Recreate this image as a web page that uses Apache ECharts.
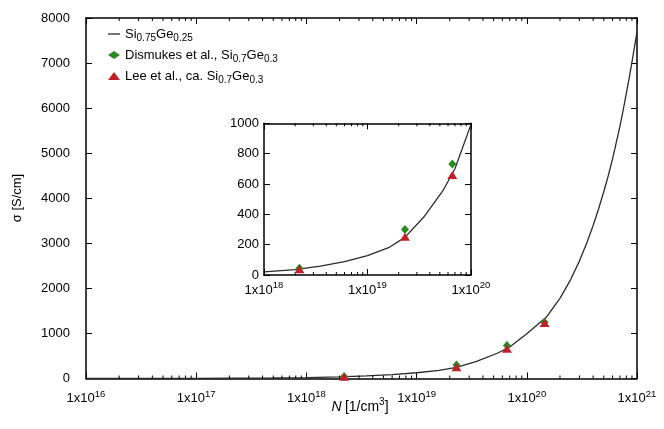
<!DOCTYPE html>
<html><head><meta charset="utf-8">
<script src="https://cdn.jsdelivr.net/npm/echarts@6/dist/echarts.min.js"></script>
<style>html,body{margin:0;padding:0;background:#fff}#c{width:664px;height:429px}</style>
</head><body><div id="c"></div>
<script>
// ---- data ----
const curveN = [1e16, 2e16, 5e16, 1e17, 2e17, 5e17, 1e18, 2e18, 3.5e18, 6e18, 1e19, 1.6e19, 2.3e19, 3.5e19, 5.4e19, 7e19, 1e20, 1.5e20, 2e20, 2.5e20, 3e20, 3.5e20, 4e20, 4.5e20, 5e20, 5.5e20, 6e20, 7e20, 7.5e20, 8.5e20, 9e20, 1e21];
const curveSigma = [0.5, 1.0, 2.4, 4.5, 8, 13, 20, 35, 58, 88, 128, 180, 248, 382, 560, 700, 993, 1358, 1778, 2195, 2605, 3005, 3396, 3778, 4149, 4511, 4873, 5596, 5959, 6672, 7022, 7690];
const dismukesN = [2.2e18, 2.3e19, 6.6e19, 1.45e20];
const dismukesSigma = [45, 300, 732, 1250];
const leeN = [2.2e18, 2.3e19, 6.6e19, 1.45e20];
const leeSigma = [38, 252, 660, 1230];
const mainDecades = [16, 17, 18, 19, 20, 21];
const insetDecades = [18, 19, 20];
const seriesNames = ['Si0.75Ge0.25', 'Dismukes et al., Si0.7Ge0.3', 'Lee et al., ca. Si0.7Ge0.3'];
const legendRich = {
  'Si0.75Ge0.25': '{t|Si}{s|0.75}{t|Ge}{s|0.25}',
  'Dismukes et al., Si0.7Ge0.3': '{t|Dismukes et al., Si}{s|0.7}{t|Ge}{s|0.3}',
  'Lee et al., ca. Si0.7Ge0.3': '{t|Lee et al., ca. Si}{s|0.7}{t|Ge}{s|0.3}'
};

const FONT = 'Liberation Sans, Arial, sans-serif';
const GREEN = '#2a8a22';
const RED = '#c02028';
const CURVE = '#2b2b2b';

function zip(a, b) { return a.map((v, i) => [v, b[i]]); }
function minorList(decs) {
  const out = [];
  for (let i = 0; i < decs.length - 1; i++) for (let k = 2; k <= 9; k++) out.push([k * Math.pow(10, decs[i])]);
  return out;
}
function expLabel(v) {
  const e = Math.round(Math.log10(v));
  return '{b|1x10}{e|' + e + '}';
}
const supRich = {
  b: { fontFamily: FONT, fontSize: 13, color: '#000', lineHeight: 16 },
  e: { fontFamily: FONT, fontSize: 9.5, color: '#000', lineHeight: 10, padding: [0, 0, 9, 0] }
};

const chart = echarts.init(document.getElementById('c'), null, { renderer: 'canvas' });

function logX(gridIndex, min, max, pos, show, margin) {
  return {
    type: 'log', logBase: 10, gridIndex, min, max, position: pos,
    axisLine: { show: true, onZero: false, lineStyle: { color: '#000', width: 1.5 } },
    axisTick: { show: true, inside: true, length: 6, lineStyle: { color: '#000', width: 1 } },
    axisLabel: show ? { show: true, margin: margin, formatter: expLabel, rich: supRich } : { show: false },
    splitLine: { show: false }
  };
}
function valY(gridIndex, min, max, interval, pos, show, margin) {
  return {
    type: 'value', gridIndex, min, max, interval, position: pos,
    axisLine: { show: true, onZero: false, lineStyle: { color: '#000', width: 1.5 } },
    axisTick: { show: true, inside: true, length: 6, lineStyle: { color: '#000', width: 1 } },
    axisLabel: show ? { show: true, margin: margin, fontFamily: FONT, fontSize: 13, color: '#000', formatter: v => String(v) } : { show: false },
    splitLine: { show: false }
  };
}

function minorTickSeries(xAxisIndex, yAxisIndex, ymin, ymax, decs) {
  return {
    type: 'custom', xAxisIndex, yAxisIndex, silent: true, z: 5,
    data: minorList(decs),
    renderItem: function (params, api) {
      const b = api.coord([api.value(0), ymin]);
      const t = api.coord([api.value(0), ymax]);
      return {
        type: 'group', children: [
          { type: 'line', shape: { x1: b[0], y1: b[1], x2: b[0], y2: b[1] - 3 }, style: { stroke: '#000', lineWidth: 1 } },
          { type: 'line', shape: { x1: t[0], y1: t[1], x2: t[0], y2: t[1] + 3 }, style: { stroke: '#000', lineWidth: 1 } }
        ]
      };
    }
  };
}

const option = {
  animation: false,
  backgroundColor: '#fff',
  grid: [
    { left: 86, top: 18, width: 551, height: 360.5, show: false },
    { left: 264, top: 123.3, width: 207, height: 151.7, show: false, z: 10 }
  ],
  xAxis: [
    logX(0, 1e16, 1e21, 'bottom', true, 12),
    logX(0, 1e16, 1e21, 'top', false),
    logX(1, 1e18, 1e20, 'bottom', true, 7),
    logX(1, 1e18, 1e20, 'top', false)
  ],
  yAxis: [
    valY(0, 0, 8000, 1000, 'left', true, 16),
    valY(0, 0, 8000, 1000, 'right', false),
    valY(1, 0, 1000, 200, 'left', true, 5),
    valY(1, 0, 1000, 200, 'right', false)
  ],
  legend: {
    orient: 'vertical', left: 103, top: 20, itemGap: 3, itemWidth: 12, itemHeight: 8,
    selectedMode: false,
    data: [
      { name: seriesNames[0], icon: 'path://M0,0L12,0L12,1.3L0,1.3Z', itemStyle: { color: CURVE } },
      { name: seriesNames[1], icon: 'diamond' },
      { name: seriesNames[2], icon: 'triangle' }
    ],
    formatter: function (n) { return legendRich[n]; },
    textStyle: {
      padding: [0, 0, 0, 0],
      rich: {
        t: { fontFamily: FONT, fontSize: 13, color: '#000', lineHeight: 16 },
        s: { fontFamily: FONT, fontSize: 10, color: '#000', lineHeight: 10, padding: [8, 0, 0, 0] }
      }
    }
  },
  series: [
    { name: seriesNames[0], type: 'line', xAxisIndex: 0, yAxisIndex: 0, data: zip(curveN, curveSigma), showSymbol: false, symbol: 'none', lineStyle: { color: CURVE, width: 1.3 }, itemStyle: { color: CURVE }, z: 3 },
    { name: seriesNames[1], type: 'scatter', xAxisIndex: 0, yAxisIndex: 0, data: zip(dismukesN, dismukesSigma), symbol: 'diamond', symbolSize: [8, 9], itemStyle: { color: GREEN, opacity: 1 }, z: 4 },
    { name: seriesNames[2], type: 'scatter', xAxisIndex: 0, yAxisIndex: 0, data: zip(leeN, leeSigma), symbol: 'triangle', symbolSize: [10, 8], itemStyle: { color: RED, opacity: 1 }, z: 4 },
    minorTickSeries(0, 0, 0, 8000, mainDecades),
    { name: seriesNames[0], type: 'line', xAxisIndex: 2, yAxisIndex: 2, data: zip(curveN, curveSigma).filter(p => p[0] >= 1e18 && p[0] <= 1e20), showSymbol: false, symbol: 'none', lineStyle: { color: CURVE, width: 1.3 }, z: 12 },
    { name: seriesNames[1], type: 'scatter', xAxisIndex: 2, yAxisIndex: 2, data: zip(dismukesN, dismukesSigma).filter(p => p[0] <= 1e20), symbol: 'diamond', symbolSize: [8, 9], itemStyle: { color: GREEN, opacity: 1 }, z: 13 },
    { name: seriesNames[2], type: 'scatter', xAxisIndex: 2, yAxisIndex: 2, data: zip(leeN, leeSigma).filter(p => p[0] <= 1e20), symbol: 'triangle', symbolSize: [10, 8], itemStyle: { color: RED, opacity: 1 }, z: 13 },
    minorTickSeries(2, 2, 0, 1000, insetDecades)
  ],
  graphic: [
    { type: 'rect', z: -1, shape: { x: 264, y: 123.3, width: 207, height: 151.7 }, style: { fill: '#fff' } },
    { type: 'text', z: 20, x: 360, y: 407,
      style: { text: '{i|N} {n|[1/cm}{e|3}{n|]}', textAlign: 'center', textVerticalAlign: 'middle',
        rich: { i: { fontFamily: FONT, fontStyle: 'italic', fontSize: 14, lineHeight: 16, color: '#000' },
                n: { fontFamily: FONT, fontSize: 14, lineHeight: 16, color: '#000' },
                e: { fontFamily: FONT, fontSize: 10, lineHeight: 10, color: '#000', padding: [0, 0, 9, 0] } } } },
    { type: 'text', z: 20, x: 17, y: 198, rotation: Math.PI / 2,
      style: { text: 'σ [S/cm]', font: '13px ' + FONT, fill: '#000', textAlign: 'center', textVerticalAlign: 'middle' } }
  ]
};
chart.setOption(option);
</script></body></html>
